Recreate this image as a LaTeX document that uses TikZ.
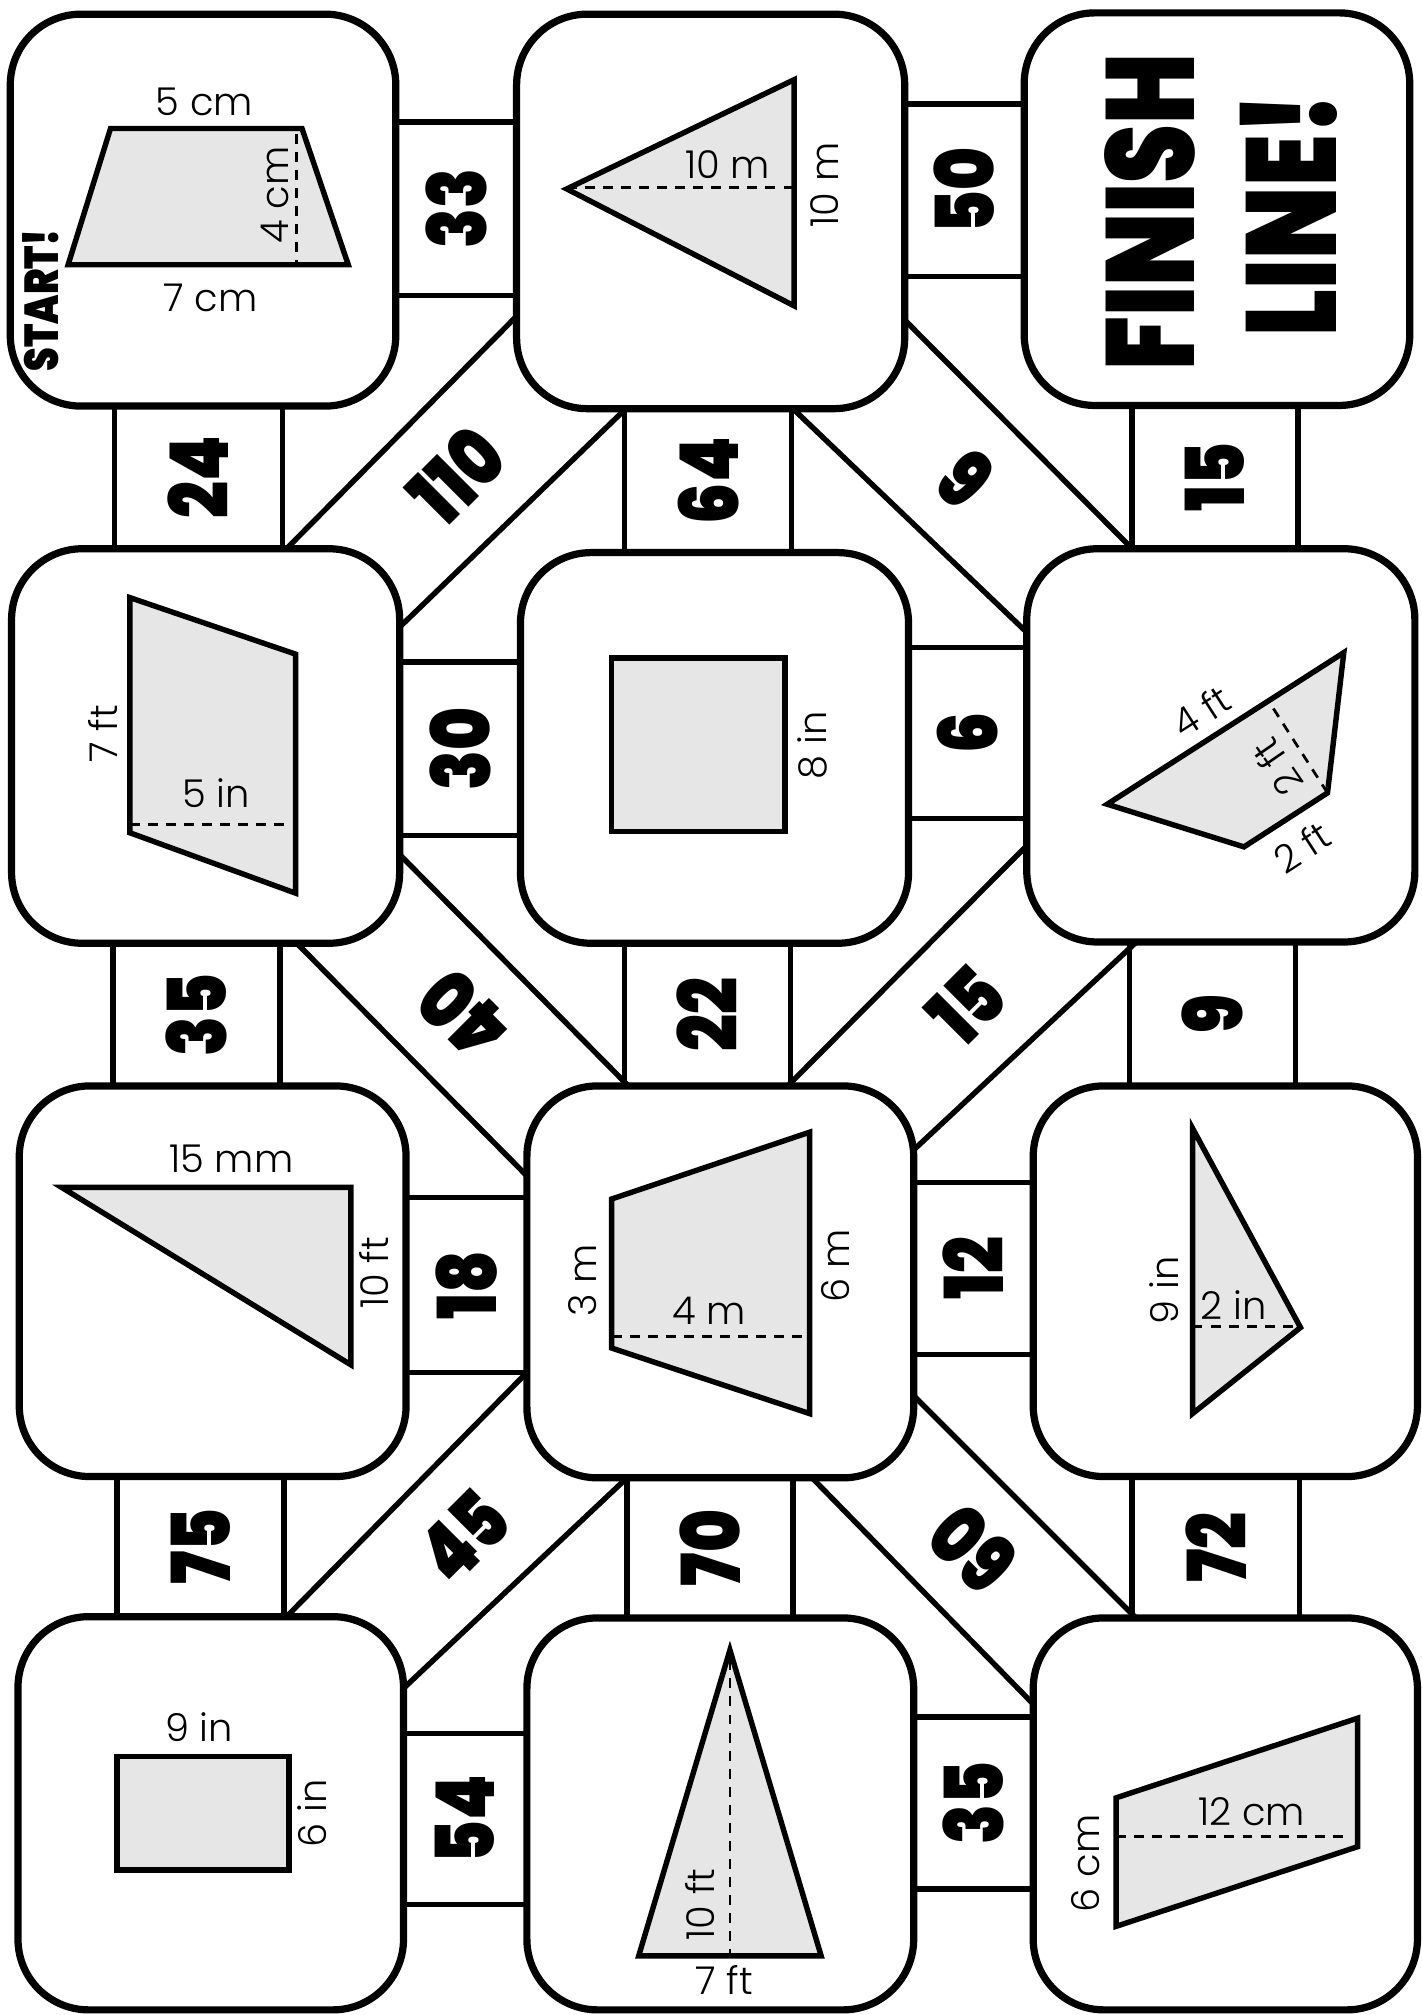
\documentclass[tikz,border=0pt]{standalone}
\usepackage{fontspec}
\usepackage{graphicx}
\usetikzlibrary{calc}

\IfFontExistsTF{Poppins Light}{\setmainfont{Poppins Light}}{\setmainfont{Poppins}}
\IfFontExistsTF{Poppins Black}{\newfontfamily\heavyfont{Poppins Black}}{%
  \IfFontExistsTF{Poppins ExtraBold}{\newfontfamily\heavyfont{Poppins ExtraBold}}{%
    \newfontfamily\heavyfont{DejaVu Sans Bold}}}

\definecolor{figgray}{HTML}{E6E6E6}
\newcommand{\narrow}[1]{\scalebox{0.8}[1]{#1}}

\tikzset{
  tile/.style={draw, line width=1.6pt, fill=white, rounded corners=5.5mm},
  link/.style={draw, line width=1.2pt, fill=white},
  lane/.style={line width=1.2pt, shorten <=-8pt, shorten >=-8pt},
  fig/.style={draw, line width=1.2pt, fill=figgray},
  hgt/.style={line width=0.6pt, dash pattern=on 2.2pt off 1.8pt},
  lbl/.style={inner sep=0pt, font=\fontsize{8.5}{8.5}\selectfont},
  ans/.style={inner sep=0pt, font=\heavyfont\fontsize{18}{18}\selectfont}
}

\begin{document}
\begin{tikzpicture}[x=0.1mm, y=-0.1mm]
  \fill[white] (0,0) rectangle (1106,1568);
  \path[use as bounding box] (0,0) rectangle (1106,1568);

  % links between rows
  \foreach \xl/\xr/\yt/\yb/\val in {89/220/316/427/24, 486/616/318/430/64, 881/1010/315/427/15,
      88/218/734/845/35, 486/615/734/845/22, 879/1008/733/845/9,
      91/221/1149/1258/75, 488/617/1150/1259/70, 881/1011/1149/1259/72} {
    \draw[link] (\xl,{\yt-12}) rectangle (\xr,{\yb+12});
    \node[ans, rotate=90] (vlink-\val) at ({(\xl+\xr)/2},{(\yt+\yb)/2}) {\narrow{\val}};
  }
  % links between columns
  \foreach \xl/\xr/\yt/\yb/\val in {308/402/95/230/33, 704/797/81/215/50,
      311/405/515/650/30, 707/799/504/637/6,
      316/410/932/1068/18, 711/804/920/1054/12,
      314/410/1349/1482/54, 711/804/1336/1470/35} {
    \draw[link] ({\xl-12},\yt) rectangle ({\xr+12},\yb);
    \node[ans, rotate=90] (hlink-\val) at ({(\xl+\xr)/2},{(\yt+\yb)/2}) {\narrow{\val}};
  }
  % diagonal lanes
  \foreach \ax/\ay/\bx/\by/\cx/\cy/\ex/\ey/\ang/\val in {
      220/430/403/245/312/487/487/318/45/110,
      708/253/882/428/617/318/800/493/135/6,
      232/735/410/915/314/668/487/843/135/40,
      615/843/800/657/714/892/880/737/45/15,
      225/1256/410/1068/318/1310/490/1148/45/45,
      630/1148/805/1327/713/1088/883/1258/135/60} {
    \draw[lane] (\ax,\ay) -- (\bx,\by);
    \draw[lane] (\cx,\cy) -- (\ex,\ey);
    \node[ans, rotate=\ang] (lane-\val) at ({(\ax+\bx+\cx+\ex)/4},{(\ay+\by+\cy+\ey)/4}) {\narrow{\val}};
  }

  % tiles
  \foreach \xa/\ya/\xb/\yb in {8/11/308/316, 402/11/704/318, 797/10/1097/315.5,
      9/427/311/734, 405/430/707/734, 799/427/1101/733,
      15/845/316/1149, 410/845/711/1150, 804/845/1103/1149,
      14/1258/314/1564, 410/1259/711/1564, 804/1259/1103/1564}
    \draw[tile] (\xa,\ya) rectangle (\xb,\yb);

  % row 1
  \draw[fig] (86,100) -- (235,100) -- (271,206) -- (53,206) -- cycle;
  \draw[hgt] (231,104) -- (231,206);
  \node[lbl] (t1top) at (159,79) {5 cm};
  \node[lbl] (t1bot) at (164,232) {7 cm};
  \node[lbl, rotate=90] (t1h) at (214,151.5) {4 cm};
  \node[rotate=90, inner sep=0pt] (start) at (32,233.5) {\resizebox{11.1mm}{2.8mm}{\heavyfont START!}};

  \draw[fig] (441,147) -- (618,62) -- (618,238) -- cycle;
  \draw[hgt] (441,146) -- (618,146);
  \node[lbl] (t2h) at (566,128) {10 m};
  \node[lbl, rotate=90] (t2b) at (642,144) {10 m};

  \node[rotate=90, inner sep=0pt] (finish) at (894.6,165) {\resizebox{24.7mm}{7mm}{\heavyfont FINISH}};
  \node[rotate=90, inner sep=0pt] (line) at (1003,167) {\resizebox{18.9mm}{7.5mm}{\heavyfont LINE!}};

  % row 2
  \draw[fig] (101,465) -- (230,509) -- (230,695) -- (101,648) -- cycle;
  \draw[hgt] (101,641.7) -- (226,641.7);
  \node[lbl, rotate=90] (t4h) at (80,571) {7 ft};
  \node[lbl] (t4b) at (168,617.5) {5 in};

  \draw[fig] (476,512) rectangle (611,647);
  \node[lbl, rotate=90] (t5s) at (632,580) {8 in};

  \coordinate (q1) at (861.6,625.8);
  \coordinate (q2) at (1045.7,507.8);
  \coordinate (q3) at (1033,617);
  \coordinate (q4) at (968,659);
  \draw[fig] (q1) -- (q2) -- (q3) -- (q4) -- cycle;
  \draw[hgt] (q3) -- ($(q1)!(q3)!(q2)$);
  \node[lbl, rotate=32.7] (t6a) at (934.8,553.6) {4 ft};
  \node[lbl, rotate=124.5] (t6h) at (994,597) {2 ft};
  \node[lbl, rotate=33] (t6b) at (1013,659) {2 ft};

  % row 3
  \draw[fig] (48,924) -- (273,924) -- (273,1062) -- cycle;
  \node[lbl] (t7b) at (180,901.6) {15 mm};
  \node[lbl, rotate=90] (t7h) at (291,990.5) {10 ft};

  \draw[fig] (476,933) -- (630,881) -- (630,1100) -- (476,1049) -- cycle;
  \draw[hgt] (476,1040) -- (628,1040);
  \node[lbl, rotate=90] (t8l) at (453.6,996) {3 m};
  \node[lbl] (t8h) at (552,1020) {4 m};
  \node[lbl, rotate=90] (t8r) at (650,985) {6 m};

  \draw[fig] (928,878) -- (928,1100) -- (1012,1033) -- cycle;
  \draw[hgt] (928,1032) -- (1010,1032);
  \node[lbl, rotate=90] (t9b) at (906,1004) {9 in};
  \node[lbl] (t9h) at (960,1015.5) {2 in};

  % row 4
  \draw[fig] (91,1367) rectangle (225,1455);
  \node[lbl] (t10w) at (155,1344) {9 in};
  \node[lbl, rotate=90] (t10h) at (243,1411) {6 in};

  \draw[fig] (568,1284) -- (497,1522) -- (639,1522) -- cycle;
  \draw[hgt] (568,1292) -- (568,1522);
  \node[lbl, rotate=90] (t11h) at (545,1482) {10 ft};
  \node[lbl] (t11b) at (563.5,1541) {7 ft};

  \draw[fig] (868.5,1399) -- (1056.5,1337) -- (1056.5,1437) -- (868.5,1499) -- cycle;
  \draw[hgt] (868.5,1429) -- (1045,1429);
  \node[lbl] (t12b) at (974,1410) {12 cm};
  \node[lbl, rotate=90] (t12h) at (845,1450) {6 cm};
\end{tikzpicture}
\end{document}
